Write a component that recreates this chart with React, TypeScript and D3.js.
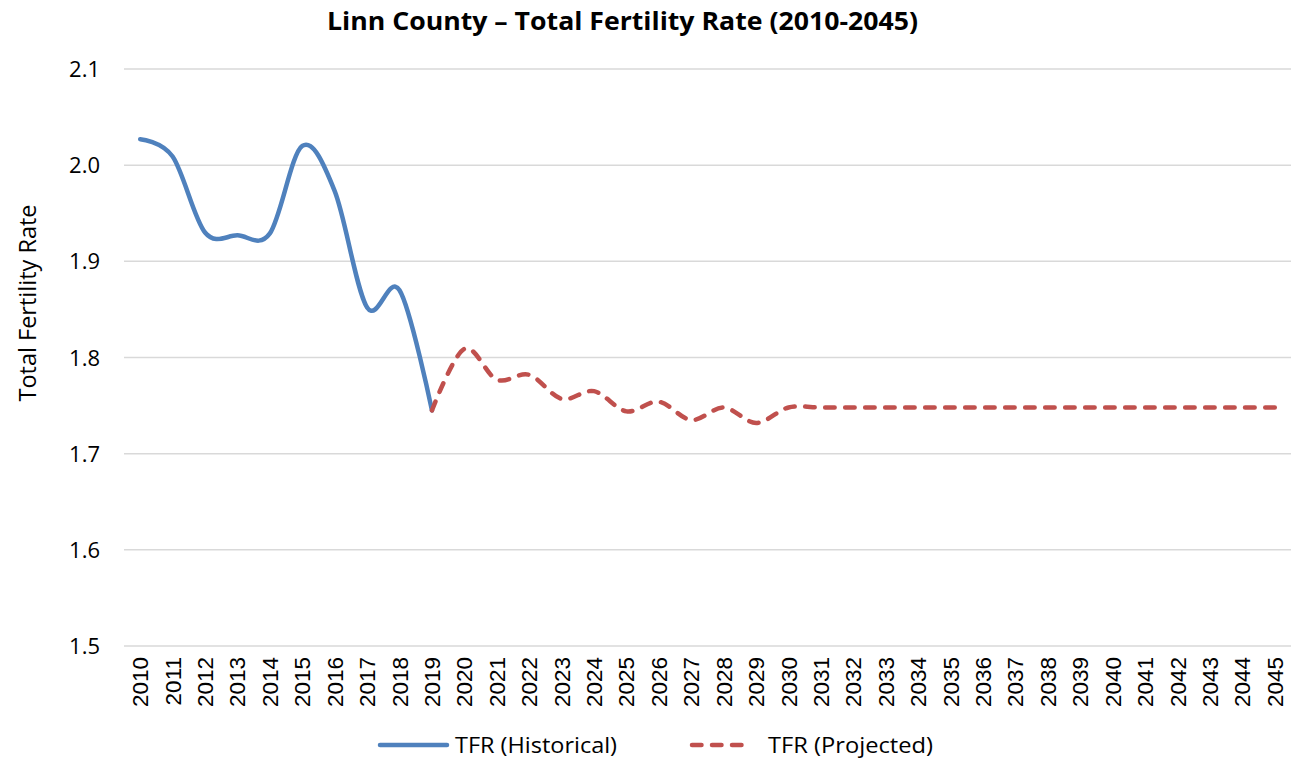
import React from "react";
import * as d3 from "d3";

const years = ["2010","2011","2012","2013","2014","2015","2016","2017","2018","2019","2020","2021","2022","2023","2024","2025","2026","2027","2028","2029","2030","2031","2032","2033","2034","2035","2036","2037","2038","2039","2040","2041","2042","2043","2044","2045"];
const historicalYears = ["2010","2011","2012","2013","2014","2015","2016","2017","2018","2019"];
const historicalValues = [2.027, 2.009, 1.930, 1.927, 1.929, 2.020, 1.973, 1.852, 1.870, 1.745];
const projectedYears = ["2019","2020","2021","2022","2023","2024","2025","2026","2027","2028","2029","2030","2031","2032","2033","2034","2035","2036","2037","2038","2039","2040","2041","2042","2043","2044","2045"];
const projectedValues = [1.745, 1.809, 1.777, 1.782, 1.757, 1.765, 1.744, 1.754, 1.735, 1.748, 1.732, 1.748, 1.748, 1.748, 1.748, 1.748, 1.748, 1.748, 1.748, 1.748, 1.748, 1.748, 1.748, 1.748, 1.748, 1.748, 1.748];
const yTicks = [1.5, 1.6, 1.7, 1.8, 1.9, 2.0, 2.1];

const W = 1300, H = 759;
const plotLeft = 124, plotRight = 1291, plotTop = 69, plotBottom = 646;
const BLUE = "#4F81BD", RED = "#C0504D";
const SANS = "'Open Sans', 'Noto Sans', sans-serif";

export default function App() {
  const x = d3.scaleBand<string>().domain(years).range([plotLeft, plotRight]).padding(0);
  const cx = (yr: string) => (x(yr) as number) + x.bandwidth() / 2;
  const y = d3.scaleLinear().domain([1.5, 2.1]).range([plotBottom, plotTop]);
  const line = d3.line<[string, number]>().x(d => cx(d[0])).y(d => y(d[1])).curve(d3.curveCardinal.tension(0));
  const hist = line(historicalYears.map((yr, i) => [yr, historicalValues[i]] as [string, number])) || "";
  const proj = line(projectedYears.map((yr, i) => [yr, projectedValues[i]] as [string, number])) || "";

  return (
    <svg width={W} height={H} style={{ position: "absolute", left: 0, top: 0, background: "#fff" }}>
      <text x={327} y={30} fontFamily={SANS} fontWeight="bold" fontSize={25.5} textLength={591} lengthAdjust="spacingAndGlyphs">
        Linn County – Total Fertility Rate (2010-2045)
      </text>
      {yTicks.map(t => (
        <g key={t}>
          <line x1={plotLeft} x2={plotRight} y1={y(t)} y2={y(t)} stroke="#d9d9d9" strokeWidth={1.5} />
          <text x={100} y={y(t) + 8} textAnchor="end" fontFamily={SANS} fontSize={22} fill="#000">
            {t.toFixed(1)}
          </text>
        </g>
      ))}
      <text transform={`translate(36,303) rotate(-90)`} textAnchor="middle" fontFamily={SANS} fontSize={23.5}>
        Total Fertility Rate
      </text>
      {years.map(yr => (
        <text key={yr} transform={`translate(${cx(yr) + 8},${plotBottom + 11}) rotate(-90)`} textAnchor="end"
          fontFamily="'Liberation Sans', Arial, sans-serif" fontSize={22.5}>
          {yr}
        </text>
      ))}
      <path d={hist} fill="none" stroke={BLUE} strokeWidth={4.5} strokeLinecap="round" strokeLinejoin="round" />
      <path d={proj} fill="none" stroke={RED} strokeWidth={4.5} strokeLinecap="round" strokeDasharray="9.5 10.5" />
      <line x1={380} x2={447} y1={745} y2={745} stroke={BLUE} strokeWidth={4.5} strokeLinecap="round" />
      <text x={455} y={753} fontFamily={SANS} fontSize={22.5} textLength={162} lengthAdjust="spacingAndGlyphs">TFR (Historical)</text>
      <line x1={692} x2={744} y1={745} y2={745} stroke={RED} strokeWidth={4.5} strokeLinecap="round" strokeDasharray="9.5 10.5" />
      <text x={768} y={753} fontFamily={SANS} fontSize={22.5} textLength={165} lengthAdjust="spacingAndGlyphs">TFR (Projected)</text>
    </svg>
  );
}
